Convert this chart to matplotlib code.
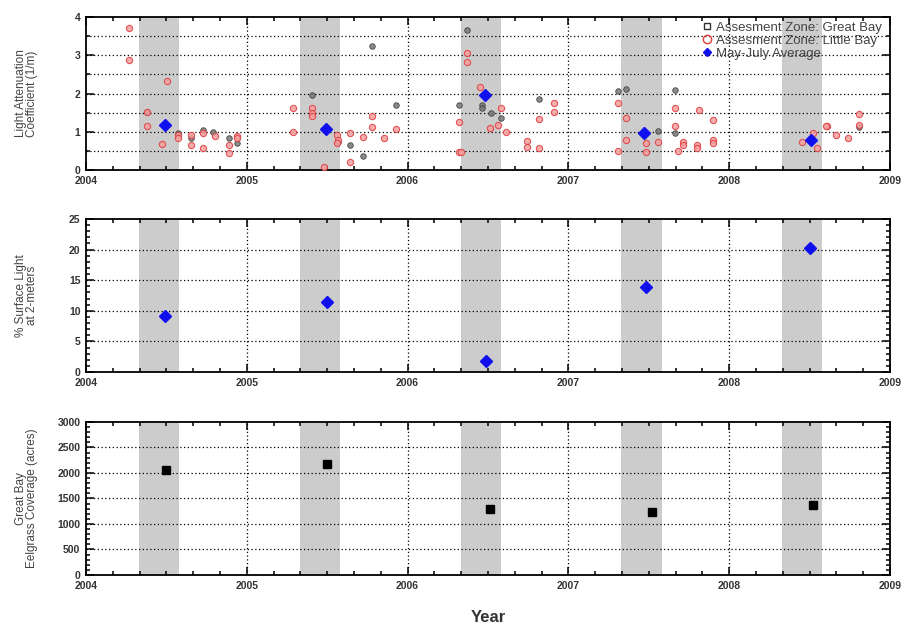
import numpy as np
import matplotlib
matplotlib.use('Agg')
import matplotlib.pyplot as plt
from matplotlib.lines import Line2D
from matplotlib.ticker import MultipleLocator

plt.rcParams['font.family'] = ['Liberation Sans', 'DejaVu Sans']

# 光衰减系数 - Great Bay
gb_years = [2004.38, 2004.57, 2004.655, 2004.73, 2004.79, 2004.89, 2004.94,
            2005.405, 2005.57, 2005.64, 2005.72, 2005.78, 2005.93,
            2006.32, 2006.37, 2006.46, 2006.46, 2006.52, 2006.58, 2006.82,
            2007.31, 2007.36, 2007.56, 2007.66, 2007.66, 2008.81]
gb_vals = [1.53, 0.98, 0.85, 1.05, 1.00, 0.83, 0.70,
           1.97, 0.74, 0.66, 0.38, 3.25, 1.70,
           1.69, 3.67, 1.70, 1.63, 1.48, 1.35, 1.85,
           2.07, 2.12, 1.03, 2.08, 0.96, 1.13]

# 光衰减系数 - Little Bay
lb_years = [2004.27, 2004.27, 2004.505, 2004.38, 2004.38, 2004.47, 2004.57, 2004.57,
            2004.65, 2004.65, 2004.73, 2004.73, 2004.80, 2004.89, 2004.89, 2004.94, 2004.94,
            2005.29, 2005.29, 2005.405, 2005.405, 2005.405, 2005.56, 2005.57, 2005.56,
            2005.48, 2005.64, 2005.64, 2005.725, 2005.78, 2005.78, 2005.855, 2005.93,
            2006.32, 2006.33, 2006.32, 2006.37, 2006.37, 2006.45, 2006.51, 2006.58,
            2006.56, 2006.61, 2006.74, 2006.74, 2006.82, 2006.82, 2006.91, 2006.91,
            2007.31, 2007.36, 2007.36, 2007.31, 2007.48, 2007.48, 2007.56, 2007.66,
            2007.66, 2007.71, 2007.71, 2007.68, 2007.81, 2007.80, 2007.80, 2007.90,
            2007.90, 2007.90, 2008.45, 2008.52, 2008.545, 2008.61, 2008.60, 2008.665,
            2008.74, 2008.81, 2008.81]
lb_vals = [3.71, 2.88, 2.33, 1.53, 1.14, 0.68, 0.92, 0.83,
           0.93, 0.65, 0.96, 0.59, 0.90, 0.65, 0.44, 0.90, 0.83,
           1.62, 1.00, 1.62, 1.48, 1.41, 0.92, 0.79, 0.72,
           0.09, 0.96, 0.22, 0.87, 1.42, 1.12, 0.83, 1.07,
           0.48, 0.48, 1.25, 3.06, 2.82, 2.18, 1.09, 1.62,
           1.18, 1.00, 0.76, 0.61, 1.33, 0.59, 1.76, 1.51,
           1.76, 1.35, 0.79, 0.50, 0.70, 0.48, 0.74, 1.62,
           1.15, 0.74, 0.66, 0.50, 1.57, 0.66, 0.57, 1.31,
           0.79, 0.72, 0.74, 0.96, 0.57, 1.16, 1.14, 0.93,
           0.83, 1.46, 1.18]

# 5-7月平均
avg_years = [2004.49, 2005.49, 2006.48, 2007.47, 2008.51]
avg_vals = [1.18, 1.07, 1.97, 0.96, 0.79]

# 2米处表面光百分比
light_years = [2004.49, 2005.50, 2006.49, 2007.48, 2008.50]
light_vals = [9.2, 11.5, 1.8, 13.9, 20.2]

# 鳗草覆盖面积
eel_years = [2004.50, 2005.50, 2006.51, 2007.52, 2008.52]
eel_vals = [2050, 2170, 1300, 1230, 1380]

years = [2004, 2005, 2006, 2007, 2008]
band_start, band_end = 0.33, 0.58

fig = plt.figure(figsize=(9.09, 6.3), dpi=100)
left, width, h = 0.0946, 0.8845, 0.243
ax1 = fig.add_axes([left, 0.730, width, h])
ax2 = fig.add_axes([left, 0.4095, width, h])
ax3 = fig.add_axes([left, 0.0873, width, h])


def style(ax, ymax, ymajor, yminor, ygrid):
    ax.set_xlim(2004, 2009)
    ax.set_ylim(0, ymax)
    for y in years:
        ax.axvspan(y + band_start, y + band_end, color='#cccccc', lw=0, zorder=0)
    ax.xaxis.set_major_locator(MultipleLocator(1))
    ax.xaxis.set_minor_locator(MultipleLocator(1 / 6))
    ax.yaxis.set_major_locator(MultipleLocator(ymajor))
    ax.yaxis.set_minor_locator(MultipleLocator(yminor))
    ax.set_xticks(range(2004, 2010))
    ax.set_xticklabels([str(y) for y in range(2004, 2010)])
    ax.tick_params(which='both', direction='in', top=True, right=True,
                   labelsize=7.5, width=1.1, pad=4)
    ax.tick_params(which='major', length=6)
    ax.tick_params(which='minor', length=3)
    for lab in ax.get_xticklabels() + ax.get_yticklabels():
        lab.set_fontweight('bold')
        lab.set_color('#333333')
    for s in ax.spines.values():
        s.set_linewidth(1.3)
    for x in range(2005, 2009):
        ax.axvline(x, color='black', ls=(0, (1, 2)), lw=0.9, zorder=1)
    for y in ygrid:
        ax.axhline(y, color='black', ls=(0, (1, 2)), lw=0.9, zorder=1)


style(ax1, 4, 1, 0.5, np.arange(0.5, 4, 0.5))
style(ax2, 25, 5, 1, [5, 10, 15, 20])
style(ax3, 3000, 500, 100, [500, 1000, 1500, 2000, 2500])

ax1.plot(gb_years, gb_vals, 'o', ms=4, mfc='#777777', mec='#333333', mew=0.6,
         alpha=0.85, zorder=3)
ax1.plot(lb_years, lb_vals, 'o', ms=4.5, mfc='#f4a0a0', mec='#e03c3c', mew=0.8,
         alpha=0.85, zorder=3)
ax1.plot(avg_years, avg_vals, 'D', ms=6, color='#1010ee', zorder=4)

handles = [Line2D([], [], ls='none', marker='s', ms=5, mfc='none', mec='#333333'),
           Line2D([], [], ls='none', marker='o', ms=6, mfc='none', mec='#e03c3c'),
           Line2D([], [], ls='none', marker='D', ms=4, color='#1010ee')]
ax1.legend(handles, ['Assesment Zone: Great Bay', 'Assesment Zone: Little Bay',
                     'May-July Average'],
           loc='upper right', bbox_to_anchor=(1.0, 1.02), frameon=False,
           fontsize=9.5, handletextpad=0.2, labelspacing=0.05,
           handlelength=1.0, borderaxespad=0.2, labelcolor='#444444')

ax2.plot(light_years, light_vals, 'D', ms=6, color='#1010ee', zorder=4)
ax3.plot(eel_years, eel_vals, 's', ms=6, color='black', zorder=4)

ax1.set_ylabel('Light Attenuation\nCoefficient (1/m)', fontsize=8.5, color='#444444',
               linespacing=0.9)
ax2.set_ylabel('% Surface Light\nat 2-meters', fontsize=8.5, color='#444444',
               linespacing=0.9)
ax3.set_ylabel('Great Bay\nEelgrass Coverage (acres)', fontsize=8.5, color='#444444',
               linespacing=0.9)
for ax in (ax1, ax2, ax3):
    ax.yaxis.set_label_coords(-0.06, 0.5)

ax3.set_xlabel('Year', fontsize=12, fontweight='bold', color='#333333', labelpad=14)

fig.savefig('out.png', dpi=100)
